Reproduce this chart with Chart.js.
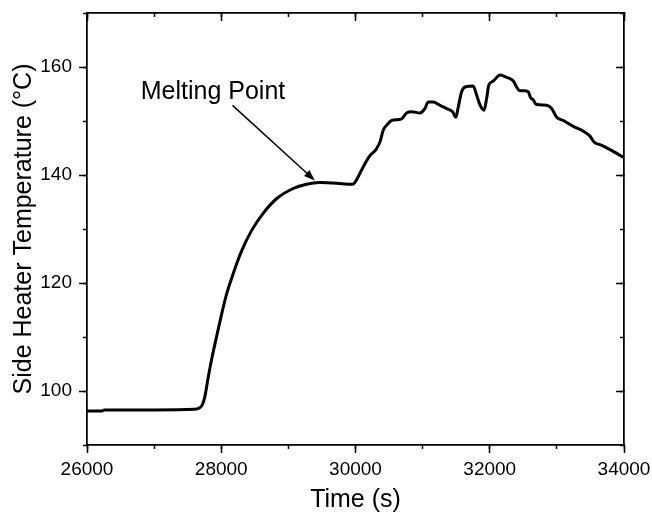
<!DOCTYPE html>
<html>
<head>
<meta charset="utf-8">
<script src="https://cdn.jsdelivr.net/npm/chart.js@4/dist/chart.umd.min.js"></script>
<style>
  html, body { margin: 0; padding: 0; background: #fff; }
  canvas { display: block; }
</style>
</head>
<body>
<canvas id="chart" width="652" height="515"></canvas>
<script>
// time (s) and side heater temperature (°C)
const timeSec = [
  26000, 26220, 26260, 27000, 27600, 27680, 27720, 27755, 27804, 27854,
  27929, 28003, 28078, 28177, 28302, 28451, 28624, 28823, 29071, 29270,
  29469, 29667, 29900, 29960, 29995, 30066, 30141, 30215, 30304, 30364,
  30413, 30470, 30538, 30687, 30761, 30836, 30960, 31034, 31084, 31158,
  31258, 31358, 31447, 31496, 31531, 31581, 31630, 31754, 31804, 31854,
  31914, 31954, 31985, 32052, 32152, 32251, 32351, 32400, 32450, 32525,
  32574, 32610, 32649, 32689, 32848, 32923, 32997, 33097, 33246, 33395,
  33494, 33554, 33669, 33792, 33892, 34000
];
const tempC = [
  96.3, 96.3, 96.5, 96.5, 96.6, 96.9, 97.5, 98.9, 102.4, 105.7,
  110.0, 114.1, 117.9, 121.7, 125.9, 129.7, 132.9, 135.6, 137.5, 138.3,
  138.6, 138.5, 138.3, 138.3, 138.7, 140.3, 142.1, 143.6, 144.7, 146.1,
  148.3, 149.3, 150.1, 150.4, 151.5, 151.7, 151.5, 152.3, 153.5, 153.5,
  152.9, 152.3, 151.7, 150.7, 152.6, 155.4, 156.3, 156.5, 154.8, 153.0,
  152.0, 154.2, 156.6, 157.4, 158.5, 158.1, 157.4, 156.3, 155.6, 155.6,
  155.4, 154.3, 153.9, 153.1, 152.9, 152.3, 150.7, 150.1, 149.0, 148.1,
  147.2, 146.1, 145.5, 144.7, 144.0, 143.2
];

const xRange = [26000, 34000];
const yRange = [90, 170];
const xTicks = [26000, 28000, 30000, 32000, 34000];
const yTicks = [100, 120, 140, 160];
const xMinorStep = 1000;
const yMinorStep = 10;

// annotation, in data units
const noteText = "Melting Point";
const noteAt = [27877, 155.3];
const arrowFrom = [28168, 152.9];
const arrowTo = [29394, 139.0];

const FONT = "'Liberation Sans', Arial, Helvetica, sans-serif";

const useTicks = list => s => { s.ticks = list.map(v => ({ value: v })); };

// tick-only axis (no labels), for minor ticks and the mirrored top/right sides
function tickAxis(position, range, step, tickLen, horizontal, list) {
  const ax = {
    type: "linear",
    position: position,
    min: range[0],
    max: range[1],
    weight: 0,
    ticks: { stepSize: step, display: false, autoSkip: false },
    grid: {
      drawOnChartArea: false,
      drawTicks: true,
      tickLength: tickLen,
      tickWidth: 1.5,
      tickColor: "#000"
    },
    border: { display: true, color: "#000", width: 1.5 },
    afterFit: s => {
      if (horizontal) s.height = 0;
      else s.width = 0;
      s.paddingTop = s.paddingBottom = s.paddingLeft = s.paddingRight = 0;
    }
  };
  if (list) ax.afterBuildTicks = useTicks(list);
  return ax;
}

const arrowNote = {
  id: "arrowNote",
  afterDatasetsDraw(chart) {
    const ctx = chart.ctx;
    const xs = chart.scales.x, ys = chart.scales.y;
    const x0 = xs.getPixelForValue(arrowFrom[0]), y0 = ys.getPixelForValue(arrowFrom[1]);
    const x1 = xs.getPixelForValue(arrowTo[0]), y1 = ys.getPixelForValue(arrowTo[1]);
    const ang = Math.atan2(y1 - y0, x1 - x0);
    const headLen = 11, headW = 4;
    ctx.save();
    ctx.strokeStyle = "#000";
    ctx.fillStyle = "#000";
    ctx.lineWidth = 1.5;
    ctx.beginPath();
    ctx.moveTo(x0, y0);
    ctx.lineTo(x1 - Math.cos(ang) * headLen * 0.8, y1 - Math.sin(ang) * headLen * 0.8);
    ctx.stroke();
    ctx.beginPath();
    ctx.moveTo(x1, y1);
    ctx.lineTo(x1 - Math.cos(ang) * headLen + Math.sin(ang) * headW,
               y1 - Math.sin(ang) * headLen - Math.cos(ang) * headW);
    ctx.lineTo(x1 - Math.cos(ang) * headLen - Math.sin(ang) * headW,
               y1 - Math.sin(ang) * headLen + Math.cos(ang) * headW);
    ctx.closePath();
    ctx.fill();
    ctx.font = "25px " + FONT;
    ctx.textAlign = "center";
    ctx.textBaseline = "middle";
    ctx.fillText(noteText, xs.getPixelForValue(noteAt[0]), ys.getPixelForValue(noteAt[1]));
    ctx.restore();
  }
};

new Chart(document.getElementById("chart"), {
  type: "line",
  data: {
    datasets: [{
      data: timeSec.map((t, i) => ({ x: t, y: tempC[i] })),
      borderColor: "#000",
      borderWidth: 3,
      pointRadius: 0,
      fill: false,
      cubicInterpolationMode: "monotone"
    }]
  },
  options: {
    responsive: false,
    animation: false,
    layout: { padding: { top: 13, right: 28, left: 0, bottom: 0 } },
    plugins: { legend: { display: false }, tooltip: { enabled: false } },
    scales: {
      x: {
        type: "linear",
        position: "bottom",
        min: xRange[0],
        max: xRange[1],
        weight: 1,
        afterBuildTicks: useTicks(xTicks),
        ticks: {
          autoSkip: false,
          maxRotation: 0,
          padding: 5,
          color: "#000",
          font: { family: FONT, size: 19 },
          callback: v => String(v)
        },
        grid: { drawOnChartArea: false, tickLength: 8, tickWidth: 1.5, tickColor: "#000" },
        border: { color: "#000", width: 1.5 },
        title: {
          display: true,
          text: "Time (s)",
          color: "#000",
          font: { family: FONT, size: 25 },
          padding: { top: 0, bottom: 0 }
        },
        afterFit: s => {
          s.height = 70;
          s.paddingLeft = s.paddingRight = 0;
        }
      },
      xMinor: tickAxis("bottom", xRange, xMinorStep, 4, true),
      xTop: tickAxis("top", xRange, xMinorStep, -8, true, xTicks),
      xTopMinor: tickAxis("top", xRange, xMinorStep, -4, true),
      y: {
        type: "linear",
        position: "left",
        min: yRange[0],
        max: yRange[1],
        weight: 1,
        afterBuildTicks: useTicks(yTicks),
        ticks: {
          autoSkip: false,
          padding: 7,
          color: "#000",
          font: { family: FONT, size: 19 },
          callback: v => String(v)
        },
        grid: { drawOnChartArea: false, tickLength: 8, tickWidth: 1.5, tickColor: "#000" },
        border: { color: "#000", width: 1.5 },
        title: {
          display: true,
          text: "Side Heater Temperature (°C)",
          color: "#000",
          font: { family: FONT, size: 25 },
          padding: { top: 9, bottom: 0 }
        },
        afterFit: s => {
          s.width = 87;
          s.paddingTop = s.paddingBottom = 0;
        }
      },
      yMinor: tickAxis("left", yRange, yMinorStep, 4, false),
      yRight: tickAxis("right", yRange, yMinorStep, -8, false, yTicks),
      yRightMinor: tickAxis("right", yRange, yMinorStep, -4, false)
    }
  },
  plugins: [arrowNote]
});
</script>
</body>
</html>
